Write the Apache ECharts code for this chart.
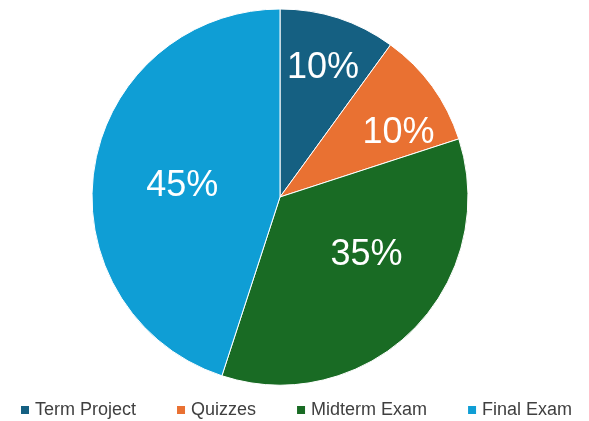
<!DOCTYPE html>
<html>
<head>
<meta charset="utf-8">
<script src="https://cdn.jsdelivr.net/npm/echarts@6/dist/echarts.min.js"></script>
<style>
html,body{margin:0;padding:0;background:#fff}
#main{width:589px;height:421px}
</style>
</head>
<body>
<div id="main"></div>
<script>
var categories=['Term Project','Quizzes','Midterm Exam','Final Exam']
var values=[10,10,35,45]
var colors=['#156082','#E97132','#196B24','#0F9ED5']
// labels nudged to where the original puts them
var labelOffsets=[[13,-37],[40,-7],[18,-11],[-2,4]]

var chart=echarts.init(document.getElementById('main'))
var data=[]
for(var i in categories){
  data.push({
    name:categories[i],
    value:values[i],
    itemStyle:{color:colors[i]},
    label:{offset:labelOffsets[i]}
  })
}
chart.setOption({
  animation:false,
  legend:{
    top:396,
    left:14,
    itemWidth:10,
    itemHeight:10,
    itemGap:39,
    icon:'rect',
    textStyle:{fontSize:18,color:'#404040',fontFamily:'Liberation Sans'}
  },
  series:[{
    type:'pie',
    center:[280,197],
    radius:188,
    startAngle:90,
    clockwise:true,
    data:data,
    itemStyle:{borderColor:'#ffffff',borderWidth:1},
    label:{
      position:'inside',
      formatter:'{d}%',
      color:'#ffffff',
      fontSize:36,
      fontFamily:'Liberation Sans'
    },
    labelLine:{show:false},
    emphasis:{disabled:true}
  }]
})
</script>
</body>
</html>
